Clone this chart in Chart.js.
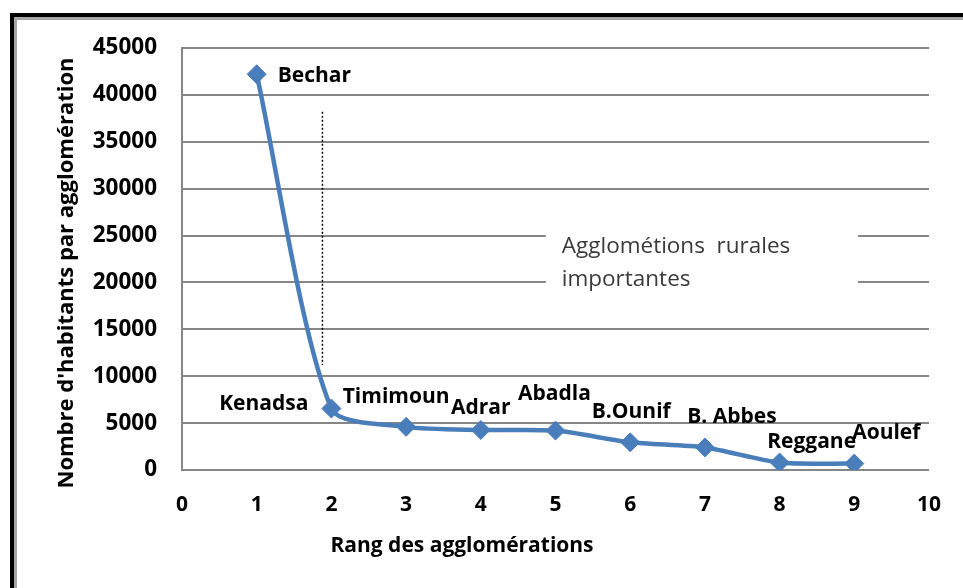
<!DOCTYPE html>
<html>
<head>
<meta charset="utf-8">
<script src="https://cdn.jsdelivr.net/npm/chart.js@4.4.1/dist/chart.umd.min.js"></script>
<style>
    html, body { margin: 0; padding: 0; background: #ffffff; overflow: hidden; }
    #wrap { position: relative; width: 963px; height: 588px; }
    #frame {
        position: absolute; left: 10px; top: 13px; width: 1100px; height: 1100px;
        border-left: 4px solid #000; border-top: 4px solid #000;
    }
    #frame2 {
        position: absolute; left: 0; top: 0; width: 100%; height: 100%;
        border-left: 3px solid #a6a6a6; border-top: 3px solid #a6a6a6;
    }
    canvas { position: absolute; left: 0; top: 0; }
</style>
</head>
<body>
<div id="wrap">
    <div id="frame"><div id="frame2"></div></div>
    <canvas id="rankChart" width="963" height="588"></canvas>
</div>
<script>
// Données
const ranks = [1, 2, 3, 4, 5, 6, 7, 8, 9];
const population = [42200, 6550, 4600, 4270, 4200, 2950, 2400, 800, 680];
const towns = ['Bechar', 'Kenadsa', 'Timimoun', 'Adrar', 'Abadla', 'B.Ounif', 'B. Abbes', 'Reggane', 'Aoulef'];
const xTicks = [0, 1, 2, 3, 4, 5, 6, 7, 8, 9, 10];
const yTicks = [0, 5000, 10000, 15000, 20000, 25000, 30000, 35000, 40000, 45000];

// limite (ligne pointillée) et note
const limitX = [1.88, 1.88];
const limitY = [38200, 11200];
const noteLines = ['Agglométions  rurales', 'importantes'];
const xTitle = 'Rang des agglomérations';
const yTitle = "Nombre d'habitants par agglomération";

// décalages des étiquettes (pixels) : dx, dy, alignement
const labelPos = [
    [21, 2, 'left'], [-23, -5, 'right'], [-10, -30, 'center'], [0, -22, 'center'],
    [-1, -37, 'center'], [1, -30, 'center'], [27, -30, 'center'], [32, -20, 'center'],
    [32, -31, 'center']
];

const blue = '#4a7ebb';
const gridGray = '#868686';

const labelsPlugin = {
    id: 'townLabels',
    beforeDatasetsDraw(chart) {
        // boîte blanche de la note
        const { ctx, scales } = chart;
        const x0 = scales.x.getPixelForValue(4.87);
        const x1 = scales.x.getPixelForValue(9.05);
        const y0 = scales.y.getPixelForValue(27300);
        const y1 = scales.y.getPixelForValue(17700);
        ctx.save();
        ctx.fillStyle = '#ffffff';
        ctx.fillRect(x0, y0, x1 - x0, y1 - y0);
        ctx.fillStyle = '#3a3a3a';
        ctx.font = '22.5px "Open Sans"';
        ctx.textAlign = 'left';
        ctx.textBaseline = 'middle';
        noteLines.forEach((t, i) => {
            ctx.fillText(t, x0 + 16, y0 + 33 + i * 33);
        });
        ctx.restore();
    },
    afterDatasetsDraw(chart) {
        const { ctx } = chart;
        const meta = chart.getDatasetMeta(0);
        ctx.save();
        ctx.fillStyle = '#000000';
        ctx.font = 'bold 21px "Open Sans"';
        ctx.textBaseline = 'middle';
        meta.data.forEach((pt, i) => {
            const p = labelPos[i];
            ctx.textAlign = p[2];
            ctx.fillText(towns[i], pt.x + p[0], pt.y + p[1]);
        });
        // titres des axes (placés comme l'original)
        ctx.textAlign = 'center';
        ctx.fillText(xTitle, 462, 546);
        ctx.font = 'bold 22px "Open Sans"';
        ctx.translate(67, 273);
        ctx.rotate(-Math.PI / 2);
        ctx.fillText(yTitle, 0, 0);
        ctx.restore();
    }
};

const ctx = document.getElementById('rankChart').getContext('2d');
const rankChart = new Chart(ctx, {
    type: 'line',
    data: {
        datasets: [{
            data: ranks.map((r, i) => ({ x: r, y: population[i] })),
            borderColor: blue,
            backgroundColor: blue,
            borderWidth: 4.5,
            tension: 0.25,
            pointStyle: 'rectRot',
            pointRadius: 9.5,
            pointBackgroundColor: blue,
            pointBorderColor: blue,
            pointBorderWidth: 1
        }, {
            data: limitX.map((x, i) => ({ x: x, y: limitY[i] })),
            borderColor: '#000000',
            borderWidth: 1.5,
            borderDash: [2, 2],
            pointRadius: 0,
            tension: 0
        }]
    },
    options: {
        responsive: false,
        animation: false,
        events: [],
        layout: { padding: { left: 0, right: 30, top: 48, bottom: 0 } },
        plugins: {
            legend: { display: false },
            tooltip: { enabled: false }
        },
        scales: {
            x: {
                type: 'linear',
                min: 0,
                max: 10,
                afterFit: (s) => { s.height = 118; },
                afterBuildTicks: (s) => { s.ticks = xTicks.map(v => ({ value: v })); },
                grid: { drawOnChartArea: false, drawTicks: false },
                border: { display: true, color: gridGray, width: 2 },
                ticks: {
                    color: '#000',
                    padding: 22,
                    font: { family: 'Open Sans', weight: 'bold', size: 21 }
                }
            },
            y: {
                min: 0,
                max: 45000,
                afterFit: (s) => { s.width = 182; },
                afterBuildTicks: (s) => { s.ticks = yTicks.map(v => ({ value: v })); },
                grid: { color: gridGray, lineWidth: 2, drawTicks: false },
                border: { display: true, color: gridGray, width: 2 },
                ticks: {
                    color: '#000',
                    padding: 25,
                    callback: (v) => String(v),
                    font: { family: 'Open Sans', weight: 'bold', size: 22.5 }
                }
            }
        }
    },
    plugins: [labelsPlugin]
});
</script>
</body>
</html>
